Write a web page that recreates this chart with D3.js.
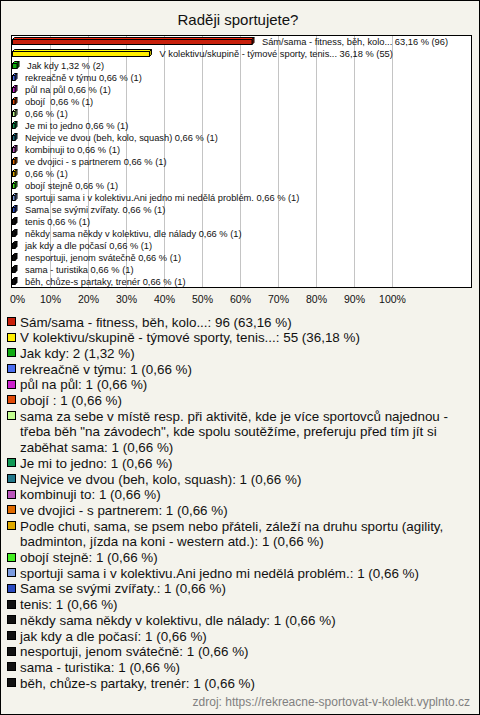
<!DOCTYPE html>
<html><head><meta charset="utf-8">
<script src="https://cdn.jsdelivr.net/npm/d3@7"></script>
<style>body{margin:0;background:#fff}svg{display:block}</style>
</head><body>
<svg id="chart" width="480" height="715"></svg>
<script>
const title = "Raději sportujete?";
const categories = [
  "Sám/sama - fitness, běh, kolo...",
  "V kolektivu/skupině - týmové sporty, tenis...",
  "Jak kdy",
  "rekreačně v týmu",
  "půl na půl",
  "obojí ",
  "sama za sebe v místě resp. při aktivitě, kde je více sportovců najednou - třeba běh \"na závodech\", kde spolu soutěžíme, preferuju před tím jít si zaběhat sama",
  "Je mi to jedno",
  "Nejvice ve dvou (beh, kolo, squash)",
  "kombinuji to",
  "ve dvojici - s partnerem",
  "Podle chuti, sama, se psem nebo přáteli, záleží na druhu sportu (agility, badminton, jízda na koni - western atd.)",
  "obojí stejně",
  "sportuji sama i v kolektivu.Ani jedno mi nedělá problém.",
  "Sama se svými zvířaty.",
  "tenis",
  "někdy sama někdy v kolektivu, dle nálady",
  "jak kdy a dle počasí",
  "nesportuji, jenom svátečně",
  "sama - turistika",
  "běh, chůze-s partaky, trenér"
];
// names shown next to bars (long ones omitted in the plot)
const barNames = [
  "Sám/sama - fitness, běh, kolo...",
  "V kolektivu/skupině - týmové sporty, tenis...",
  "Jak kdy", "rekreačně v týmu", "půl na půl", "obojí ", "",
  "Je mi to jedno", "Nejvice ve dvou (beh, kolo, squash)", "kombinuji to",
  "ve dvojici - s partnerem", "", "obojí stejně",
  "sportuji sama i v kolektivu.Ani jedno mi nedělá problém.",
  "Sama se svými zvířaty.", "tenis", "někdy sama někdy v kolektivu, dle nálady",
  "jak kdy a dle počasí", "nesportuji, jenom svátečně", "sama - turistika",
  "běh, chůze-s partaky, trenér"
];
const counts = [96, 55, 2, 1, 1, 1, 1, 1, 1, 1, 1, 1, 1, 1, 1, 1, 1, 1, 1, 1, 1];
const percents = [63.16, 36.18, 1.32, 0.66, 0.66, 0.66, 0.66, 0.66, 0.66, 0.66, 0.66, 0.66, 0.66, 0.66, 0.66, 0.66, 0.66, 0.66, 0.66, 0.66, 0.66];
const colors = ["#c8200c", "#ffee00", "#11aa11", "#4a6ef0", "#cc22cc", "#e04a08", "#c4ff90",
  "#119955", "#22778a", "#bb55bb", "#e06a00", "#e0aa00", "#44ee22", "#7c9ce0", "#2a4ac0",
  "#111111", "#111111", "#111111", "#111111", "#111111", "#111111"];
const xTicks = [0, 10, 20, 30, 40, 50, 60, 70, 80, 90, 100];
const source = "zdroj: https://rekreacne-sportovat-v-kolekt.vyplnto.cz";

const fmt = v => v.toFixed(2).replace(".", ",");
const svg = d3.select("#chart");
const W = 480, H = 715;

svg.append("rect").attr("x", 0.5).attr("y", 0.5).attr("width", W - 1).attr("height", H - 1)
  .attr("fill", "#f4f3ec").attr("stroke", "#000");

svg.append("text").attr("x", 238).attr("y", 25).attr("text-anchor", "middle")
  .attr("font-family", "Liberation Sans, Arial, sans-serif").attr("font-size", 15)
  .attr("fill", "#111").text(title);

// plot area
const plot = {left: 11.5, right: 471.5, top: 35.5, bottom: 287.5};
svg.append("rect").attr("x", plot.left).attr("y", plot.top)
  .attr("width", plot.right - plot.left).attr("height", plot.bottom - plot.top)
  .attr("fill", "#fff");

const x = d3.scaleLinear().domain([0, 100]).range([12, 392]);
const y = d3.scaleBand().domain(d3.range(categories.length)).range([plot.top, plot.bottom]);

// grid
svg.append("g").selectAll("line").data(xTicks.slice(1)).join("line")
  .attr("x1", d => Math.round(x(d)) + 0.5).attr("x2", d => Math.round(x(d)) + 0.5)
  .attr("y1", plot.top).attr("y2", plot.bottom)
  .attr("stroke", "#c4c4c4").attr("stroke-width", 1);

svg.append("rect").attr("x", plot.left).attr("y", plot.top)
  .attr("width", plot.right - plot.left).attr("height", plot.bottom - plot.top)
  .attr("fill", "none").attr("stroke", "#000");

// axis labels
const axis = d3.axisBottom(x).tickValues(xTicks).tickFormat(d => d + "%").tickSize(0);
const ag = svg.append("g").attr("transform", "translate(0,293)").call(axis);
ag.select(".domain").remove();
ag.selectAll("text").attr("font-family", "Liberation Sans, Arial, sans-serif")
  .attr("font-size", 10.5).attr("fill", "#111")
  .attr("dx", d => d === 0 ? 5 : 0);

// 3D bars
const dep = 2, bh = 5;
const bars = svg.append("g");
categories.forEach((c, i) => {
  const cy = y(i) + y.bandwidth() / 2;
  const x0 = x(0) + 0.5, x1 = Math.max(x(percents[i]), x0 + 2.5);
  const y0 = Math.round(cy) - 2.5;
  const g = bars.append("g");
  const col = d3.color(colors[i]);
  g.append("path").attr("d", `M${x0},${y0}L${x0 + dep},${y0 - dep}L${x1 + dep},${y0 - dep}L${x1},${y0}Z`)
    .attr("fill", col.brighter(0.6)).attr("stroke", "#000").attr("stroke-width", 1);
  g.append("path").attr("d", `M${x1},${y0}L${x1 + dep},${y0 - dep}L${x1 + dep},${y0 + bh - dep}L${x1},${y0 + bh}Z`)
    .attr("fill", col.darker(0.8)).attr("stroke", "#000").attr("stroke-width", 1);
  g.append("rect").attr("x", x0).attr("y", y0).attr("width", x1 - x0).attr("height", bh)
    .attr("fill", colors[i]).attr("stroke", "#000").attr("stroke-width", 1);
  const lbl = (barNames[i] ? barNames[i] + " " : "") + fmt(percents[i]) + " % (" + counts[i] + ")";
  svg.append("text").attr("x", x1 + 10).attr("y", cy + 3)
    .attr("font-family", "Liberation Sans, Arial, sans-serif").attr("font-size", 9.3)
    .attr("fill", "#111").style("white-space", "pre").text(lbl);
});

// legend
const lg = svg.append("g");
const lh = 15.7, maxW = 442;
let ly = 322;
categories.forEach((c, i) => {
  lg.append("rect").attr("x", 7.5).attr("y", Math.round(ly) - 4.5).attr("width", 8).attr("height", 8)
    .attr("fill", colors[i]).attr("stroke", "#000");
  const txt = c + ": " + counts[i] + " (" + fmt(percents[i]) + " %)";
  const t = lg.append("text").attr("font-family", "Liberation Sans, Arial, sans-serif")
    .attr("font-size", 13.4).attr("fill", "#111").style("white-space", "pre");
  const words = txt.split(" ");
  let line = [];
  let ts = t.append("tspan").attr("x", 20).attr("y", ly + 4.5);
  words.forEach(w => {
    line.push(w);
    ts.text(line.join(" "));
    if (ts.node().getComputedTextLength() > maxW && line.length > 1) {
      line.pop();
      ts.text(line.join(" "));
      line = [w];
      ly += lh;
      ts = t.append("tspan").attr("x", 20).attr("y", ly + 4.5).text(w);
    }
  });
  ly += lh;
});

svg.append("text").attr("x", 470).attr("y", 706).attr("text-anchor", "end")
  .attr("font-family", "Liberation Sans, Arial, sans-serif").attr("font-size", 12)
  .attr("fill", "#808080").text(source);
</script>
</body></html>
